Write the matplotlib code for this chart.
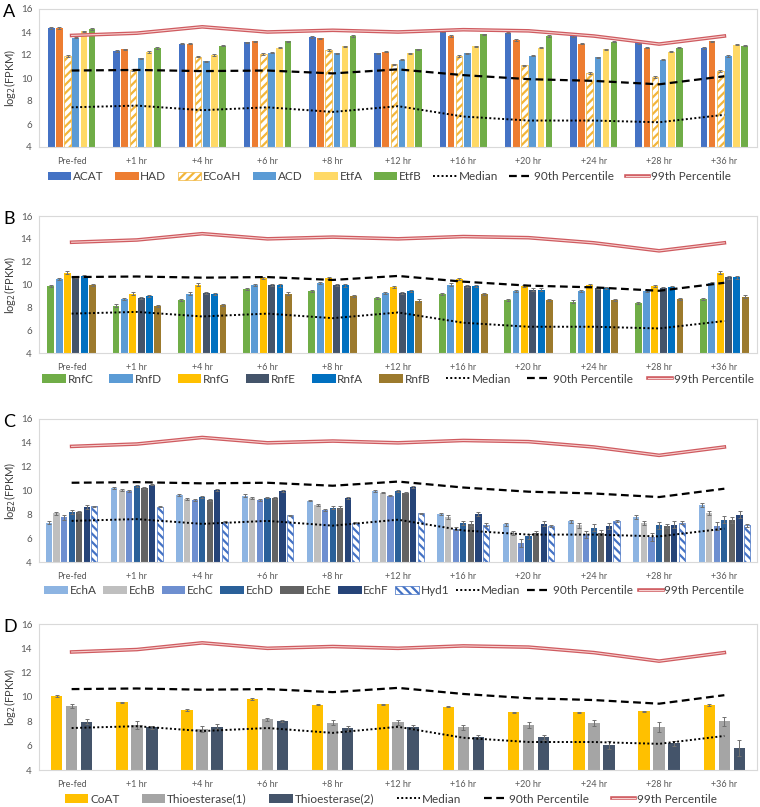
import numpy as np
import matplotlib
matplotlib.use('Agg')
import matplotlib.pyplot as plt
import matplotlib.patheffects as pe

plt.rcParams['font.family'] = ['Lato', 'DejaVu Sans']
plt.rcParams['hatch.linewidth'] = 1.6

timepoints = ['Pre-fed', '+1 hr', '+4 hr', '+6 hr', '+8 hr', '+12 hr',
              '+16 hr', '+20 hr', '+24 hr', '+28 hr', '+36 hr']

# reference lines (same in every panel)
median_line = [7.45, 7.6, 7.2, 7.45, 7.05, 7.55, 6.65, 6.3, 6.3, 6.15, 6.8]
pct90_line = [10.65, 10.7, 10.6, 10.65, 10.4, 10.75, 10.25, 9.9, 9.75, 9.45, 10.15]
pct99_line = [13.7, 13.9, 14.45, 14.0, 14.15, 14.0, 14.2, 14.1, 13.65, 12.95, 13.65]

# panel A
a_genes = ['ACAT', 'HAD', 'ECoAH', 'ACD', 'EtfA', 'EtfB']
a_acat = [14.35, 12.35, 13.0, 13.1, 13.55, 12.15, 14.05, 13.95, 13.65, 13.05, 12.6]
a_had = [14.35, 12.5, 13.0, 13.2, 13.45, 12.3, 13.65, 13.3, 13.0, 12.65, 13.2]
a_ecoah = [11.9, 10.7, 11.85, 12.1, 12.45, 11.2, 11.9, 11.1, 10.45, 10.1, 10.6]
a_acd = [13.5, 11.7, 11.45, 12.2, 12.15, 11.6, 12.15, 11.95, 11.8, 11.6, 11.9]
a_etfa = [14.05, 12.25, 12.0, 12.65, 12.75, 12.15, 12.75, 12.65, 12.5, 12.3, 12.9]
a_etfb = [14.25, 12.6, 12.8, 13.2, 13.65, 12.5, 13.8, 13.65, 13.15, 12.65, 12.8]
a_err = 0.06

# panel B
b_genes = ['RnfC', 'RnfD', 'RnfG', 'RnfE', 'RnfA', 'RnfB']
b_rnfc = [9.85, 8.15, 8.65, 9.6, 9.43, 8.79, 9.17, 8.65, 8.5, 8.35, 8.7]
b_rnfd = [10.5, 8.75, 9.2, 9.95, 10.13, 9.23, 10.0, 9.43, 9.4, 9.43, 10.15]
b_rnfg = [11.05, 9.2, 10.0, 10.6, 10.6, 9.75, 10.5, 9.87, 9.95, 9.84, 11.05]
b_rnfe = [10.68, 8.79, 9.28, 9.98, 9.98, 9.23, 9.84, 9.55, 9.72, 9.66, 10.62]
b_rnfa = [10.75, 9.02, 9.14, 9.92, 9.92, 9.4, 9.87, 9.55, 9.72, 9.75, 10.62]
b_rnfb = [9.95, 8.12, 8.2, 9.2, 9.0, 8.59, 9.17, 8.65, 8.65, 8.76, 8.94]
b_err = 0.1

# panel C
c_genes = ['EchA', 'EchB', 'EchC', 'EchD', 'EchE', 'EchF', 'Hyd1']
c_echa = [7.31, 10.23, 9.66, 9.58, 9.16, 9.94, 8.04, 7.17, 7.42, 7.79, 8.77]
c_echb = [8.07, 10.08, 9.27, 9.36, 8.82, 9.83, 7.76, 6.44, 7.08, 7.28, 8.12]
c_echc = [7.76, 9.97, 9.24, 9.24, 8.35, 9.58, 6.8, 5.6, 6.33, 6.1, 7.03]
c_echd = [8.2, 10.37, 9.44, 9.41, 8.57, 9.94, 7.28, 6.16, 6.89, 7.08, 7.56]
c_eche = [8.18, 10.23, 9.24, 9.38, 8.57, 9.83, 7.23, 6.47, 6.47, 7.03, 7.56]
c_echf = [8.63, 10.5, 10.03, 9.97, 9.38, 10.28, 8.01, 7.2, 7.0, 7.14, 7.98]
c_hyd1 = [8.68, 8.63, 7.37, 7.93, 7.31, 8.07, 7.14, 7.0, 7.42, 7.31, 7.08]
c_err_echa = [0.1, 0.08, 0.08, 0.1, 0.08, 0.08, 0.1, 0.12, 0.12, 0.15, 0.15]
c_err_echb = [0.1, 0.08, 0.08, 0.08, 0.08, 0.08, 0.15, 0.2, 0.22, 0.2, 0.2]
c_err_echc = [0.2, 0.1, 0.08, 0.08, 0.1, 0.08, 0.15, 0.3, 0.3, 0.35, 0.35]
c_err_echd = [0.15, 0.08, 0.08, 0.08, 0.1, 0.08, 0.2, 0.2, 0.3, 0.3, 0.3]
c_err_eche = [0.1, 0.08, 0.08, 0.08, 0.1, 0.08, 0.2, 0.15, 0.2, 0.2, 0.25]
c_err_echf = [0.15, 0.08, 0.08, 0.08, 0.08, 0.08, 0.15, 0.2, 0.25, 0.3, 0.3]
c_err_hyd1 = [0.05, 0.05, 0.05, 0.05, 0.05, 0.05, 0.1, 0.1, 0.1, 0.15, 0.15]

# panel D
d_genes = ['CoAT', 'Thioesterase(1)', 'Thioesterase(2)']
d_coat = [10.08, 9.56, 8.93, 9.84, 9.37, 9.4, 9.21, 8.74, 8.74, 8.82, 9.32]
d_thio1 = [9.26, 7.7, 7.34, 8.16, 7.89, 7.92, 7.51, 7.7, 7.84, 7.56, 8.0]
d_thio2 = [7.97, 7.5, 7.56, 8.05, 7.42, 7.56, 6.74, 6.68, 6.05, 6.19, 5.78]
d_err_coat = [0.05, 0.06, 0.06, 0.05, 0.05, 0.05, 0.05, 0.06, 0.06, 0.06, 0.1]
d_err_thio1 = [0.15, 0.3, 0.25, 0.15, 0.2, 0.2, 0.2, 0.25, 0.25, 0.4, 0.35]
d_err_thio2 = [0.2, 0.15, 0.2, 0.08, 0.2, 0.15, 0.15, 0.2, 0.3, 0.2, 0.65]


def draw_panel(ax, letter, genes, series, errors, colors, hatches, slot, width,
               legend_y, colspace, legend_x=0.5):
    x = np.arange(len(timepoints))
    n = len(genes)
    handles = []
    for k in range(n):
        offs = (k - (n - 1) / 2) * slot
        if hatches[k]:
            b = ax.bar(x + offs, series[k], width, facecolor='white', edgecolor=colors[k],
                       hatch=hatches[k], linewidth=0.5, label=genes[k], zorder=2)
        else:
            b = ax.bar(x + offs, series[k], width, color=colors[k], label=genes[k], zorder=2)
        handles.append(b)
        ax.errorbar(x + offs, series[k], yerr=errors[k], fmt='none', ecolor='#707070',
                    elinewidth=0.7, capsize=1.5, capthick=0.7, zorder=3)

    l1, = ax.plot(x, median_line, ls=(0, (1, 1.2)), color='black', lw=1.4, label='Median', zorder=4)
    l2, = ax.plot(x, pct90_line, ls=(0, (3.5, 2)), color='black', lw=1.6,
                  label='90th Percentile', zorder=4)
    l3, = ax.plot(x, pct99_line, color='#f6d0cf', lw=0.8, label='99th Percentile', zorder=4,
                  path_effects=[pe.Stroke(linewidth=2.6, foreground='#cf5b60'), pe.Normal()])
    handles += [l1, l2, l3]

    ax.set_xlim(-0.5, len(timepoints) - 0.5)
    ax.set_ylim(4, 16)
    ax.set_yticks(range(4, 17, 2))
    ax.set_xticks(x)
    ax.set_xticklabels(timepoints, fontsize=6.5, color='#595959')
    ax.tick_params(axis='both', length=0)
    ax.tick_params(axis='y', labelsize=7, colors='#595959', pad=5)
    ax.tick_params(axis='x', pad=7)
    for sp in ax.spines.values():
        sp.set_color('#d9d9d9')
        sp.set_linewidth(0.8)
    ax.set_ylabel('log$_2$(FPKM)', fontsize=8, color='#404040', labelpad=2)

    leg = ax.legend(handles=handles, loc='center', bbox_to_anchor=(legend_x, legend_y),
                    ncol=n + 3, frameon=False, fontsize=8.5, handlelength=2.0,
                    handleheight=0.75, handletextpad=0.15, columnspacing=colspace,
                    borderaxespad=0)
    for t in leg.get_texts():
        t.set_color('#404040')

    pos = ax.get_position()
    ax.figure.text(0.004, pos.y1 - 0.004, letter, fontsize=13, ha='left', va='center')


fig = plt.figure(figsize=(7.6, 8.07), dpi=100)
W, H = 760, 807


def add_axes(top, bottom, left=39, right=757):
    return fig.add_axes([left / W, 1 - bottom / H, (right - left) / W, (bottom - top) / H])


ax_a = add_axes(9, 147)
draw_panel(ax_a, 'A', a_genes,
           [a_acat, a_had, a_ecoah, a_acd, a_etfa, a_etfb],
           [a_err] * 6,
           ['#4472c4', '#ed7d31', '#f2b53a', '#5b9bd5', '#ffd966', '#70ad47'],
           [None, None, '////', None, None, None],
           0.125, 0.1, -0.215, 0.95, legend_x=0.488)

ax_b = add_axes(216, 353)
draw_panel(ax_b, 'B', b_genes,
           [b_rnfc, b_rnfd, b_rnfg, b_rnfe, b_rnfa, b_rnfb],
           [b_err] * 6,
           ['#70ad47', '#5b9bd5', '#ffc000', '#44546a', '#0070c0', '#9c7a2d'],
           [None] * 6,
           0.128, 0.105, -0.19, 1.35)

ax_c = add_axes(419, 562)
draw_panel(ax_c, 'C', c_genes,
           [c_echa, c_echb, c_echc, c_echd, c_eche, c_echf, c_hyd1],
           [c_err_echa, c_err_echb, c_err_echc, c_err_echd, c_err_eche, c_err_echf, c_err_hyd1],
           ['#8db4e2', '#bfbfbf', '#6e8fd0', '#2a6099', '#636363', '#264478', '#4472c4'],
           [None, None, None, None, None, None, '\\\\\\\\'],
           0.116, 0.095, -0.2, 0.55, legend_x=0.495)

ax_d = add_axes(624, 770)
draw_panel(ax_d, 'D', d_genes,
           [d_coat, d_thio1, d_thio2],
           [d_err_coat, d_err_thio1, d_err_thio2],
           ['#ffc000', '#a5a5a5', '#44546a'],
           [None] * 3,
           0.23, 0.175, -0.2, 1.9, legend_x=0.49)

fig.savefig('out.png', dpi=100)
